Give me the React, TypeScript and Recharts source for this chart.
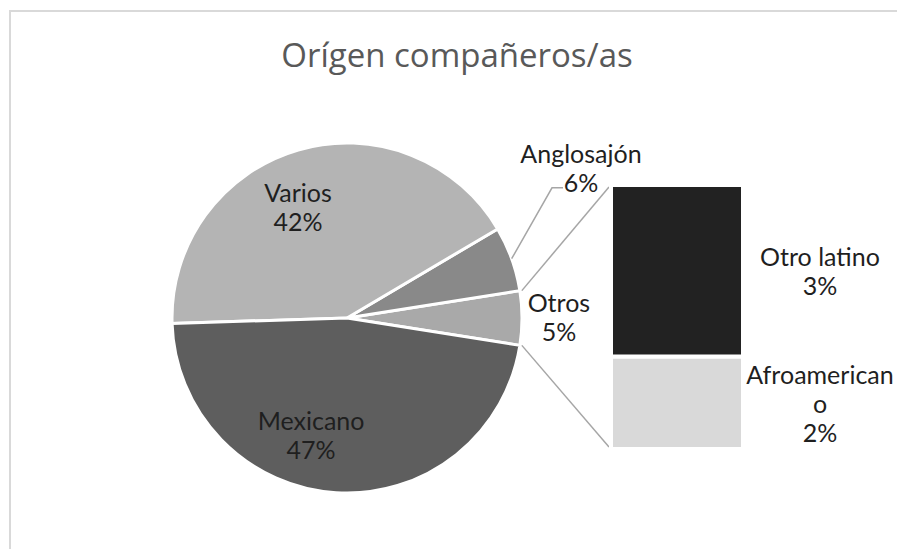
import React from "react";
import { PieChart, Pie, Cell, BarChart, Bar, XAxis, YAxis, LabelList } from "recharts";

// main pie
const pieNames = ["Otros", "Anglosajón", "Varios", "Mexicano"];
const pieValues = [5, 6, 42, 47];
const pieColors = ["#a9a9a9", "#898989", "#b4b4b4", "#5e5e5e"];

// breakdown of "Otros" (bar)
const barNames = ["Afroamericano", "Otro latino"];
const barValues = [1.75, 3.25];
const barColors = ["#d9d9d9", "#222222"];

const title = "Orígen compañeros/as";

const W = 897;
const H = 549;
const PIE_CX = 347;
const PIE_CY = 318;
const PIE_R = 175;
const BAR_LEFT = 611;
const BAR_RIGHT = 743;
const BAR_TOP = 185;
const BAR_BOTTOM = 449;

const LABEL_FONT = "Lato, 'Noto Sans', sans-serif";
const LABEL_SIZE = 25;
const LINE_H = 29;
const LINE_COLOR = "#a6a6a6";

const pieData = pieNames.map((name, i) => ({ name, value: pieValues[i] }));
const barRow: Record<string, number | string> = { name: "Otros" };
barNames.forEach((n, i) => (barRow[n] = barValues[i]));
const barData = [barRow];

// label spots, relative to the pie (angle ccw in degrees, radius factor)
const LABEL_SPOT: Record<string, { angle: number; r: number }> = {
  Varios: { angle: 113.7, r: 0.696 },
  Mexicano: { angle: 252.8, r: 0.694 },
  Anglosajón: { angle: 32.7, r: 1.589 },
  Otros: { angle: 0.4, r: 1.211 },
};

const RAD = Math.PI / 180;
const polar = (cx: number, cy: number, r: number, a: number) => [
  cx + r * Math.cos(-a * RAD),
  cy + r * Math.sin(-a * RAD),
];

const wrap = (s: string, max = 12) => {
  const out: string[] = [];
  s.split(" ").forEach((w) => {
    while (w.length > max) {
      out.push(w.slice(0, max));
      w = w.slice(max);
    }
    const last = out[out.length - 1];
    if (last && last.length + 1 + w.length <= max) out[out.length - 1] = last + " " + w;
    else out.push(w);
  });
  return out;
};

const TextBlock = ({ x, y, lines }: { x: number; y: number; lines: string[] }) => {
  const top = y - ((lines.length - 1) * LINE_H) / 2;
  return (
    <text
      x={x}
      y={top}
      textAnchor="middle"
      dominantBaseline="central"
      fontFamily={LABEL_FONT}
      fontSize={LABEL_SIZE}
      fill="#1f1f1f"
    >
      {lines.map((l, i) => (
        <tspan key={i} x={x} y={top + i * LINE_H}>
          {l}
        </tspan>
      ))}
    </text>
  );
};

const renderPieLabel = (props: any) => {
  const { cx, cy, outerRadius, midAngle, percent, payload } = props;
  const name = payload?.name ?? props.name;
  const value = payload?.value ?? props.value;
  const spot = LABEL_SPOT[name];
  const [lx, ly] = polar(cx, cy, outerRadius * spot.r, spot.angle);
  const lines = [...wrap(name), `${Math.round(value)}%`];
  const extras: React.ReactNode[] = [];

  if (name === "Anglosajón") {
    const [sx, sy] = polar(cx, cy, outerRadius, midAngle);
    const ex = lx - 29;
    const ey = ly + 20;
    extras.push(
      <polyline
        key="leader"
        points={`${sx},${sy} ${ex},${ey} ${ex + 11},${ey}`}
        fill="none"
        stroke={LINE_COLOR}
        strokeWidth={1.5}
      />
    );
  }
  if (name === "Otros") {
    const half = percent * 180;
    const [ax, ay] = polar(cx, cy, outerRadius, midAngle + half);
    const [bx, by] = polar(cx, cy, outerRadius, midAngle - half);
    extras.push(
      <line key="c1" x1={ax + 2} y1={ay} x2={BAR_LEFT - 2} y2={BAR_TOP + 2} stroke={LINE_COLOR} strokeWidth={1.5} />,
      <line key="c2" x1={bx + 2} y1={by} x2={BAR_LEFT - 2} y2={BAR_BOTTOM - 2} stroke={LINE_COLOR} strokeWidth={1.5} />
    );
  }
  return (
    <g>
      {extras}
      <TextBlock x={lx} y={ly} lines={lines} />
    </g>
  );
};

const barLabel = (name: string) => (props: any) => {
  const { x, y, width, height, value } = props;
  return (
    <TextBlock
      x={Number(x) + Number(width) + 77}
      y={Number(y) + Number(height) / 2}
      lines={[...wrap(name), `${Math.round(Number(value))}%`]}
    />
  );
};

export default function App() {
  return (
    <div style={{ position: "absolute", left: 0, top: 0, width: W, height: H, overflow: "hidden", background: "#fff" }}>
      <div
        style={{
          position: "absolute",
          left: 9,
          top: 10,
          width: W + 20,
          height: H + 20,
          border: "2px solid #d9d9d9",
        }}
      />
      <div style={{ position: "absolute", left: 0, top: 0 }}>
        <PieChart width={W} height={H} margin={{ top: 0, right: 0, bottom: 0, left: 0 }}>
          <Pie
            data={pieData}
            dataKey="value"
            nameKey="name"
            cx={PIE_CX}
            cy={PIE_CY}
            outerRadius={PIE_R}
            startAngle={-9}
            endAngle={351}
            stroke="#ffffff"
            strokeWidth={3}
            label={renderPieLabel}
            labelLine={false}
            isAnimationActive={false}
          >
            {pieData.map((d, i) => (
              <Cell key={d.name} fill={pieColors[i]} />
            ))}
          </Pie>
        </PieChart>
      </div>
      <div style={{ position: "absolute", left: 0, top: 0 }}>
        <BarChart
          width={W}
          height={H}
          data={barData}
          barCategoryGap={0}
          margin={{ top: BAR_TOP, bottom: H - BAR_BOTTOM, left: BAR_LEFT, right: W - BAR_RIGHT }}
        >
          <XAxis dataKey="name" hide />
          <YAxis type="number" domain={[0, 5]} hide />
          {barNames.map((n, i) => (
            <Bar key={n} dataKey={n} stackId="a" fill={barColors[i]} stroke="#ffffff" strokeWidth={4} isAnimationActive={false}>
              <LabelList dataKey={n} content={barLabel(n)} />
            </Bar>
          ))}
        </BarChart>
      </div>
      <div
        style={{
          position: "absolute",
          left: 257,
          top: 35,
          width: 400,
          textAlign: "center",
          fontFamily: "'Open Sans', sans-serif",
          fontSize: 33,
          lineHeight: "40px",
          color: "#595959",
          whiteSpace: "nowrap",
        }}
      >
        {title}
      </div>
    </div>
  );
}
